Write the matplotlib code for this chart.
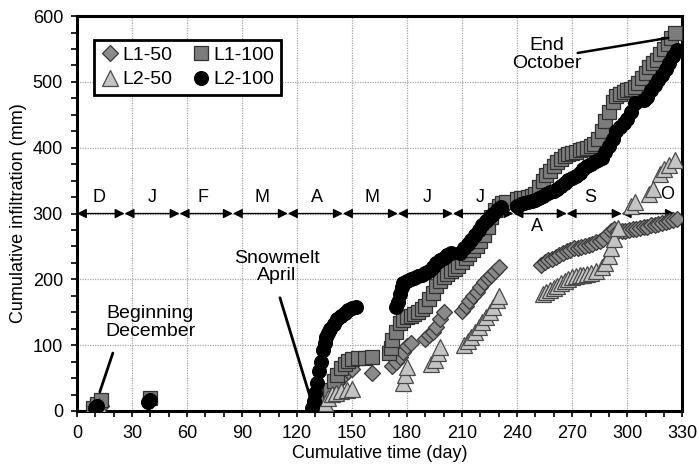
import matplotlib
matplotlib.use("Agg")
import matplotlib.pyplot as plt
from matplotlib.ticker import MultipleLocator

plt.rcParams['font.family'] = ['Liberation Sans', 'DejaVu Sans']

# ---------------- data ----------------
l1_50_day = [11, 13,
             132, 134, 136, 138, 140, 142, 144, 146, 148, 150, 161,
             172, 174, 176, 178, 180, 182, 190, 192, 194, 196, 198, 200,
             210, 212, 214, 216, 218, 220, 222, 224, 226, 228, 230,
             253, 255, 257, 259, 261, 263, 265, 267, 269, 271, 273, 275, 277, 279, 281,
             283, 285, 287, 289, 291, 293, 295, 297, 299, 301, 303, 305, 307, 309, 311,
             313, 315, 317, 319, 321, 323, 325, 327]
l1_50_mm = [3, 8,
            2, 8, 15, 24, 33, 42, 50, 56, 60, 63, 58,
            68, 75, 82, 90, 98, 104, 110, 115, 120, 128, 140, 150,
            152, 160, 167, 174, 181, 188, 196, 202, 207, 212, 218,
            222, 226, 229, 231, 234, 237, 240, 243, 245, 247, 248, 249, 250, 252, 254,
            256, 258, 262, 268, 273, 276, 274, 273, 273, 275, 276, 277, 278, 279, 280,
            282, 283, 284, 285, 287, 288, 290, 292]

l1_100_day = [9, 11, 13, 40,
              132, 134, 136, 138, 140, 142, 144, 146, 148, 150, 153, 157, 161,
              170, 171, 172, 174, 176, 178, 180, 182, 184, 186, 188, 190, 192, 194, 196,
              198, 200, 202, 204, 206, 208, 210, 212, 214, 216, 218, 220, 222, 224, 226,
              228, 230, 232, 234,
              240, 242, 244, 246, 248, 250, 252, 254, 256, 258, 260, 262, 264, 266, 268,
              270, 272, 274, 276, 278, 280, 282, 284, 286, 288, 290, 292, 294, 296, 298,
              300, 302, 304, 306, 308, 310, 312, 314, 316, 318, 320, 322, 324, 326]
l1_100_mm = [5, 10, 17, 20,
             3, 12, 22, 32, 45, 55, 65, 72, 76, 79, 81, 80, 82,
             88, 95, 108, 120, 133, 138, 143, 145, 148, 150, 155, 160, 170, 180, 190,
             197, 203, 208, 212, 215, 220, 227, 232, 238, 244, 250, 258, 268, 280, 295,
             305, 312, 316, 318,
             322, 323, 324, 325, 326, 330, 340, 350, 358, 365, 372, 378, 383, 387, 390,
             392, 394, 396, 398, 400, 402, 406, 414, 425, 440, 455, 470, 478, 482, 485,
             487, 489, 492, 498, 506, 514, 522, 528, 534, 542, 550, 558, 567, 574]

l2_50_day = [12,
             131, 133, 135, 137, 139, 141, 144, 147, 150,
             178, 179, 180, 193, 195, 197, 198,
             211, 213, 215, 217, 219, 221, 223, 225, 227, 229, 230,
             254, 256, 258, 260, 262, 264, 266, 268, 270, 272, 274, 276, 278, 280,
             283, 286, 288, 290, 291, 293, 295, 302, 304, 312, 314, 318, 320, 323, 326]
l2_50_mm = [8,
            0, 5, 12, 20, 26, 28, 30, 32, 33,
            43, 55, 67, 72, 78, 88, 97,
            100, 106, 113, 120, 127, 135, 143, 150, 158, 168, 175,
            178, 181, 184, 187, 190, 194, 197, 200, 203, 205, 206, 207, 208, 209,
            212, 218, 225, 235, 248, 262, 278, 312, 318, 330, 337, 360, 368, 373, 382]

l2_100_day = [10, 11, 39, 40,
              128, 129, 130, 131, 132, 133, 134, 135, 136, 137, 138, 140, 142, 144, 146,
              148, 150, 152,
              174, 175, 176, 177, 178, 180, 182, 184, 186, 188, 190, 192, 194, 196, 198,
              200, 202, 204,
              209, 211, 213, 215, 217, 219, 221, 223, 225, 227, 229, 231,
              240, 242, 244, 246, 248, 250, 252, 254, 256, 258, 260, 262, 264, 266, 268,
              270, 272, 274, 276, 278, 280, 282, 284, 286, 288, 290, 292, 294, 296, 298,
              300, 302, 304,
              309, 311, 313, 315, 317, 319, 321, 323, 325, 327]
l2_100_mm = [5, 8, 14, 16,
             5, 15, 28, 42, 60, 75, 92, 103, 112, 118, 124, 132, 139, 144, 149,
             153, 156, 158,
             158, 165, 178, 188, 195, 198, 200, 202, 205, 207, 210, 212, 218, 225, 230,
             233, 237, 240,
             240, 247, 253, 260, 268, 275, 282, 288, 294, 300, 305, 310,
             312, 314, 316, 318, 319, 321, 324, 327, 330, 333, 335, 338, 342, 347, 351,
             354, 357, 362, 367, 372, 376, 379, 381, 385, 393, 403, 414, 425, 432, 437,
             443, 455, 468,
             472, 477, 487, 495, 503, 511, 519, 528, 540, 548]

month_bounds = [0, 26, 56, 85, 115, 145, 175, 205, 238, 267, 297, 326]
month_labels = ['D', 'J', 'F', 'M', 'A', 'M', 'J', 'J', 'A', 'S', 'O']
month_label_x = [12, 41, 69, 101, 131, 161, 191, 220, 251, 280, 322]
month_label_y = [325, 325, 325, 325, 325, 325, 325, 325, 280, 325, 329]

# ---------------- figure ----------------
fig = plt.figure(figsize=(6.99, 4.74), dpi=100)
ax = fig.add_axes([0.110, 0.133, 0.866, 0.833])

ax.set_xlim(0, 330)
ax.set_ylim(0, 600)
ax.xaxis.set_major_locator(MultipleLocator(30))
ax.xaxis.set_minor_locator(MultipleLocator(10))
ax.yaxis.set_major_locator(MultipleLocator(100))
ax.yaxis.set_minor_locator(MultipleLocator(25))
ax.grid(True, which='major', color='#a8a8a8', linestyle=(0, (1, 1)), linewidth=0.9)
ax.set_axisbelow(True)
ax.tick_params(which='both', direction='out', length=4, width=1.2, colors='black',
               labelsize=13)
ax.tick_params(which='major', pad=6)
for s in ax.spines.values():
    s.set_linewidth(2.2)
    s.set_color('black')

# month band
for i in range(len(month_labels)):
    ax.annotate('', xy=(month_bounds[i + 1], 300), xytext=(month_bounds[i], 300),
                arrowprops=dict(arrowstyle='<|-|>', color='black', lw=1.0,
                                shrinkA=0, shrinkB=0, mutation_scale=14),
                zorder=3)
    ax.text(month_label_x[i], month_label_y[i], month_labels[i], ha='center',
            va='center', fontsize=13, zorder=6)

h1, = ax.plot(l1_50_day, l1_50_mm, linestyle='none', marker='D', markersize=8,
              markerfacecolor='#8a8a8a', markeredgecolor='#3a3a3a', markeredgewidth=0.9,
              label='L1-50', zorder=4)
h2, = ax.plot(l1_100_day, l1_100_mm, linestyle='none', marker='s', markersize=9.5,
              markerfacecolor='#7c7c7c', markeredgecolor='#303030', markeredgewidth=0.9,
              label='L1-100', zorder=4)
h3, = ax.plot(l2_50_day, l2_50_mm, linestyle='none', marker='^', markersize=11,
              markerfacecolor='#c4c4c4', markeredgecolor='#4a4a4a', markeredgewidth=0.9,
              label='L2-50', zorder=4)
h4, = ax.plot(l2_100_day, l2_100_mm, linestyle='none', marker='o', markersize=10,
              markerfacecolor='black', markeredgecolor='black', markeredgewidth=0.8,
              label='L2-100', zorder=5)

# annotations
ax.text(40, 134, 'Beginning\nDecember', ha='center', va='center', fontsize=14,
        linespacing=1.05, zorder=7)
ax.annotate('', xy=(12.5, 29), xytext=(19.6, 88),
            arrowprops=dict(arrowstyle='-', color='black', lw=2, shrinkA=0, shrinkB=0),
            zorder=7)
ax.text(109, 219, 'Snowmelt\nApril', ha='center', va='center', fontsize=14,
        linespacing=1.05, zorder=7)
ax.annotate('', xy=(127.5, 18), xytext=(110.7, 172),
            arrowprops=dict(arrowstyle='-', color='black', lw=2, shrinkA=0, shrinkB=0),
            zorder=7)
ax.text(256, 542, 'End\nOctober', ha='center', va='center', fontsize=14,
        linespacing=1.05, zorder=7)
ax.annotate('', xy=(322.5, 567), xytext=(273, 544),
            arrowprops=dict(arrowstyle='-', color='black', lw=1.8, shrinkA=0, shrinkB=0),
            zorder=7)

ax.set_xlabel('Cumulative time (day)', fontsize=13, labelpad=2)
ax.set_ylabel('Cumulative infiltration (mm)', fontsize=13, labelpad=4)

leg = ax.legend([h1, h3, h2, h4], ['L1-50', 'L2-50', 'L1-100', 'L2-100'],
                loc='upper left', ncol=2, fontsize=14, frameon=True, fancybox=False,
                edgecolor='black', framealpha=1, borderpad=0.35, handletextpad=0.1,
                columnspacing=1.0, handlelength=1.0, labelspacing=0.35,
                bbox_to_anchor=(0.012, 0.965))
leg.get_frame().set_linewidth(2)
leg.set_zorder(10)

fig.savefig('out.png', dpi=100)
